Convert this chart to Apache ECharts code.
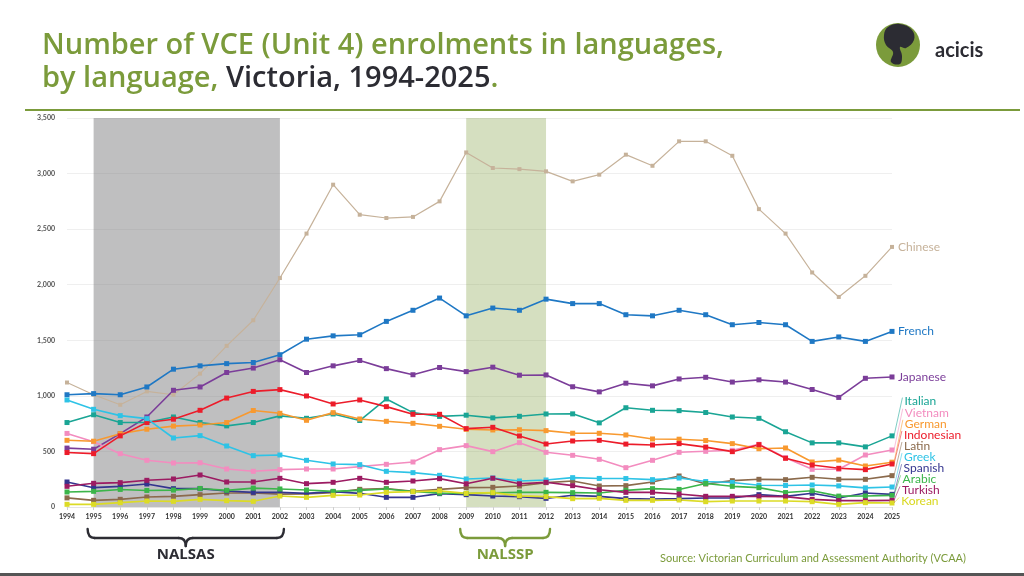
<!DOCTYPE html>
<html>
<head>
<meta charset="utf-8">
<script src="https://cdn.jsdelivr.net/npm/echarts@6/dist/echarts.min.js"></script>
<style>
  html, body { margin: 0; padding: 0; background: #fff; }
  #main { width: 1024px; height: 576px; }
</style>
</head>
<body>
<div id="main"></div>
<script>
// categories
var years = ['1994', '1995', '1996', '1997', '1998', '1999', '2000', '2001', '2002', '2003', '2004',
  '2005', '2006', '2007', '2008', '2009', '2010', '2011', '2012', '2013', '2014', '2015', '2016',
  '2017', '2018', '2019', '2020', '2021', '2022', '2023', '2024', '2025'];
var yTicks = [0, 500, 1000, 1500, 2000, 2500, 3000, 3500];

// enrolments per language
var chinese = [1120, 1010, 920, 1040, 1010, 1200, 1450, 1680, 2060, 2460, 2900, 2630, 2600, 2610, 2750, 3190,
  3050, 3040, 3020, 2930, 2990, 3170, 3070, 3290, 3290, 3160, 2680, 2460, 2110, 1890, 2080, 2340];
var french = [1010, 1020, 1010, 1080, 1240, 1270, 1290, 1300, 1370, 1510, 1540, 1550, 1670, 1770, 1880, 1720,
  1790, 1770, 1870, 1830, 1830, 1730, 1720, 1770, 1730, 1640, 1660, 1640, 1490, 1530, 1490, 1580];
var japanese = [530, 520, 660, 810, 1050, 1080, 1210, 1250, 1325, 1210, 1270, 1318, 1245, 1190, 1255, 1218,
  1258, 1186, 1188, 1082, 1036, 1114, 1090, 1152, 1167, 1124, 1144, 1124, 1057, 986, 1158, 1170];
var italian = [760, 830, 760, 760, 810, 760, 730, 760, 820, 798, 837, 778, 972, 849, 815, 826,
  802, 816, 837, 838, 757, 893, 870, 867, 850, 810, 798, 677, 577, 577, 541, 640];
var vietnam = [662, 588, 480, 420, 396, 398, 342, 321, 336, 342, 342, 363, 384, 405, 516, 552,
  498, 579, 492, 465, 429, 354, 420, 492, 501, 510, 564, 444, 339, 339, 468, 513];
var german = [600, 592, 660, 700, 728, 738, 760, 868, 843, 780, 849, 792, 771, 753, 726, 699,
  693, 695, 687, 664, 663, 648, 612, 610, 598, 570, 524, 531, 405, 422, 369, 403];
var indonesian = [490, 480, 640, 760, 790, 870, 980, 1040, 1056, 999, 927, 963, 903, 834, 834, 705,
  717, 639, 567, 594, 600, 566, 558, 570, 539, 498, 561, 438, 378, 348, 336, 387];
var latin = [82, 60, 69, 90, 96, 111, 126, 126, 116, 118, 129, 159, 165, 141, 159, 174,
  177, 189, 219, 234, 189, 192, 225, 279, 207, 237, 249, 246, 267, 249, 249, 282];
var greek = [963, 879, 822, 795, 621, 642, 549, 462, 468, 420, 387, 381, 321, 309, 285, 252,
  261, 234, 243, 264, 257, 256, 246, 261, 229, 220, 196, 194, 198, 190, 172, 180];
var spanish = [225, 174, 186, 207, 165, 165, 144, 132, 132, 123, 138, 123, 87, 87, 120, 111,
  99, 93, 78, 105, 96, 75, 72, 75, 81, 81, 111, 96, 123, 81, 126, 114];
var arabic = [135, 141, 158, 149, 152, 167, 150, 170, 162, 153, 141, 150, 162, 140, 125, 122,
  128, 132, 132, 129, 126, 150, 165, 158, 212, 186, 174, 130, 146, 98, 99, 105];
var turkish = [186, 213, 219, 240, 252, 288, 225, 225, 258, 210, 222, 258, 222, 234, 255, 209,
  259, 209, 222, 192, 155, 132, 132, 117, 96, 96, 96, 93, 69, 57, 57, 60];
var korean = [24, 24, 39, 54, 51, 69, 57, 51, 99, 87, 105, 108, 132, 138, 145, 123,
  129, 100, 93, 75, 78, 60, 60, 63, 48, 54, 54, 54, 48, 24, 39, 36];

var languages = ['Chinese', 'French', 'Japanese', 'Italian', 'Vietnam', 'German', 'Indonesian',
  'Latin', 'Greek', 'Spanish', 'Arabic', 'Turkish', 'Korean'];
var values = [chinese, french, japanese, italian, vietnam, german, indonesian,
  latin, greek, spanish, arabic, turkish, korean];
var colors = ['#c6b29a', '#1f78c4', '#7b3d99', '#1aa595', '#f38cbf', '#f8992f', '#ec1c2a',
  '#8b6a4c', '#2ec3e6', '#34358f', '#3bb54a', '#9c1b62', '#dcdb26'];
var labelColors = ['#c6b29a', '#1f78c4', '#7b3d99', '#1aa595', '#f38cbf', '#f8992f', '#ec1c2a',
  '#8b6a4c', '#2ec3e6', '#34358f', '#3bb54a', '#9c1b62', '#d9d820'];

var GREEN = '#7b9b3b';
var DARK = '#2c2c33';

var chart = echarts.init(document.getElementById('main'));

var series = languages.map(function(name, i) {
  var s = {
    name: name,
    type: 'line',
    data: values[i],
    symbol: 'rect',
    symbolSize: i === 0 ? 4 : 5,
    lineStyle: { width: i === 0 ? 1.2 : 1.6, color: colors[i] },
    itemStyle: { color: colors[i] },
    emphasis: { disabled: true },
    z: 3
  };
  if (i === 0) {
    // NALSAS period
    s.markArea = {
      silent: true,
      itemStyle: { color: 'rgba(128,128,130,0.5)' },
      data: [[{ xAxis: '1995' }, { xAxis: '2002' }]]
    };
  }
  return s;
});
// NALSSP period, laid over the lines
series.push({
  name: 'nalssp',
  type: 'line',
  data: [],
  z: 10,
  markArea: {
    silent: true,
    itemStyle: { color: 'rgba(123,155,59,0.32)' },
    data: [[{ xAxis: '2009' }, { xAxis: '2012' }]]
  }
});

chart.setOption({
  animation: false,
  backgroundColor: '#fff',
  title: {
    left: 37,
    top: 24,
    text: '{g|Number of VCE (Unit 4) enrolments in languages,}\n{g|by language, }{d|Victoria, 1994-2025}{g|.}',
    textStyle: {
      rich: {
        g: { color: GREEN, fontFamily: 'Open Sans', fontWeight: 600, fontSize: 29, lineHeight: 33 },
        d: { color: DARK, fontFamily: 'Open Sans', fontWeight: 600, fontSize: 29, lineHeight: 33 }
      }
    }
  },
  grid: { left: 67, right: 132, top: 118, bottom: 69, containLabel: false },
  xAxis: {
    type: 'category',
    data: years,
    boundaryGap: false,
    axisLine: { show: true, lineStyle: { color: '#e4e4e4' } },
    axisTick: { show: true, length: 3, lineStyle: { color: '#cfcfcf' } },
    axisLabel: { fontSize: 7, color: '#333', margin: 6, fontFamily: 'Lato', fontWeight: 'bold' },
    splitLine: { show: false }
  },
  yAxis: {
    type: 'value',
    min: yTicks[0],
    max: yTicks[yTicks.length - 1],
    interval: 500,
    axisLine: { show: false },
    axisTick: { show: false },
    axisLabel: {
      fontSize: 7, color: '#555', margin: 12, fontFamily: 'Lato', fontWeight: 'bold',
      formatter: function(v) { return v.toLocaleString('en-US'); }
    },
    splitLine: { lineStyle: { color: '#efefef', width: 1 } }
  },
  series: series
});

// annotations: end labels, brackets, logo, source
var last = years.length - 1;
var graphic = [];

function pt(i) {
  return chart.convertToPixel({ seriesIndex: i }, [last, values[i][last]]);
}

// big three sit next to their last point
[0, 1, 2].forEach(function(i) {
  var p = pt(i);
  graphic.push({
    type: 'text', x: p[0] + 6, y: p[1],
    style: { text: languages[i], fill: labelColors[i], font: '12px Lato', verticalAlign: 'middle' }
  });
});

// small languages are stacked from the bottom up with leader lines
var stackOrder = [12, 11, 10, 9, 8, 7, 6, 5, 4, 3];
var prevY = Infinity;
stackOrder.forEach(function(i) {
  var p = pt(i);
  var y = Math.min(p[1] - 1.5, prevY - 11.1);
  prevY = y;
  var lx = 901 + Math.min(6, (p[1] - y) * 0.1);
  graphic.push({
    type: 'line', shape: { x1: p[0] + 2, y1: p[1], x2: lx - 2, y2: y - 4 },
    style: { stroke: colors[i], lineWidth: 0.8, opacity: 0.7 }
  });
  graphic.push({
    type: 'text', x: lx, y: y,
    style: { text: languages[i], fill: labelColors[i], font: '12px Lato', verticalAlign: 'middle' }
  });
});

// curly bracket under a period, built from curves and lines
function brace(a, b, color, label) {
  var x1 = chart.convertToPixel({ xAxisIndex: 0 }, a) - 6;
  var x2 = chart.convertToPixel({ xAxisIndex: 0 }, b) + 4;
  var xm = (x1 + x2) / 2;
  var y0 = 529, y1 = 538, y2 = 546, r = 7;
  var st = { stroke: color, lineWidth: 2.4, fill: null, lineCap: 'round' };
  graphic.push(
    { type: 'bezierCurve', shape: { x1: x1, y1: y0, cpx1: x1, cpy1: y1, x2: x1 + r, y2: y1 }, style: st },
    { type: 'line', shape: { x1: x1 + r, y1: y1, x2: xm - r, y2: y1 }, style: st },
    { type: 'bezierCurve', shape: { x1: xm - r, y1: y1, cpx1: xm, cpy1: y1, x2: xm, y2: y2 }, style: st },
    { type: 'bezierCurve', shape: { x1: xm, y1: y2, cpx1: xm, cpy1: y1, x2: xm + r, y2: y1 }, style: st },
    { type: 'line', shape: { x1: xm + r, y1: y1, x2: x2 - r, y2: y1 }, style: st },
    { type: 'bezierCurve', shape: { x1: x2 - r, y1: y1, cpx1: x2, cpy1: y1, x2: x2, y2: y0 }, style: st },
    {
      type: 'text', x: xm, y: 555,
      style: { text: label, fill: color, font: 'bold 15px "Open Sans"', align: 'center', verticalAlign: 'middle' }
    }
  );
}
brace('1995', '2002', DARK, 'NALSAS');
brace('2009', '2012', GREEN, 'NALSSP');

// header rule, footer bar, source
graphic.push({ type: 'rect', shape: { x: 25, y: 109, width: 995, height: 2 }, style: { fill: GREEN } });
graphic.push({ type: 'rect', shape: { x: 0, y: 573, width: 1024, height: 3 }, style: { fill: '#555' } });
graphic.push({
  type: 'text', x: 966, y: 558,
  style: {
    text: 'Source: Victorian Curriculum and Assessment Authority (VCAA)',
    fill: GREEN, font: '11px Lato', align: 'right', verticalAlign: 'middle'
  }
});

// logo
graphic.push({ type: 'circle', shape: { cx: 898, cy: 45, r: 22 }, style: { fill: GREEN } });
graphic.push({
  type: 'polygon',
  shape: {
    smooth: 0.4,
    points: [[888, 27], [900, 24], [912, 30], [914, 40], [906, 48], [900, 47], [902, 56],
      [900, 64], [891, 62], [893, 52], [886, 45], [884, 35]]
  },
  style: { fill: DARK }
});
graphic.push({
  type: 'text', x: 935, y: 51,
  style: { text: 'acicis', fill: DARK, font: 'bold 20px Lato', verticalAlign: 'middle' }
});

chart.setOption({ graphic: graphic });
</script>
</body>
</html>
